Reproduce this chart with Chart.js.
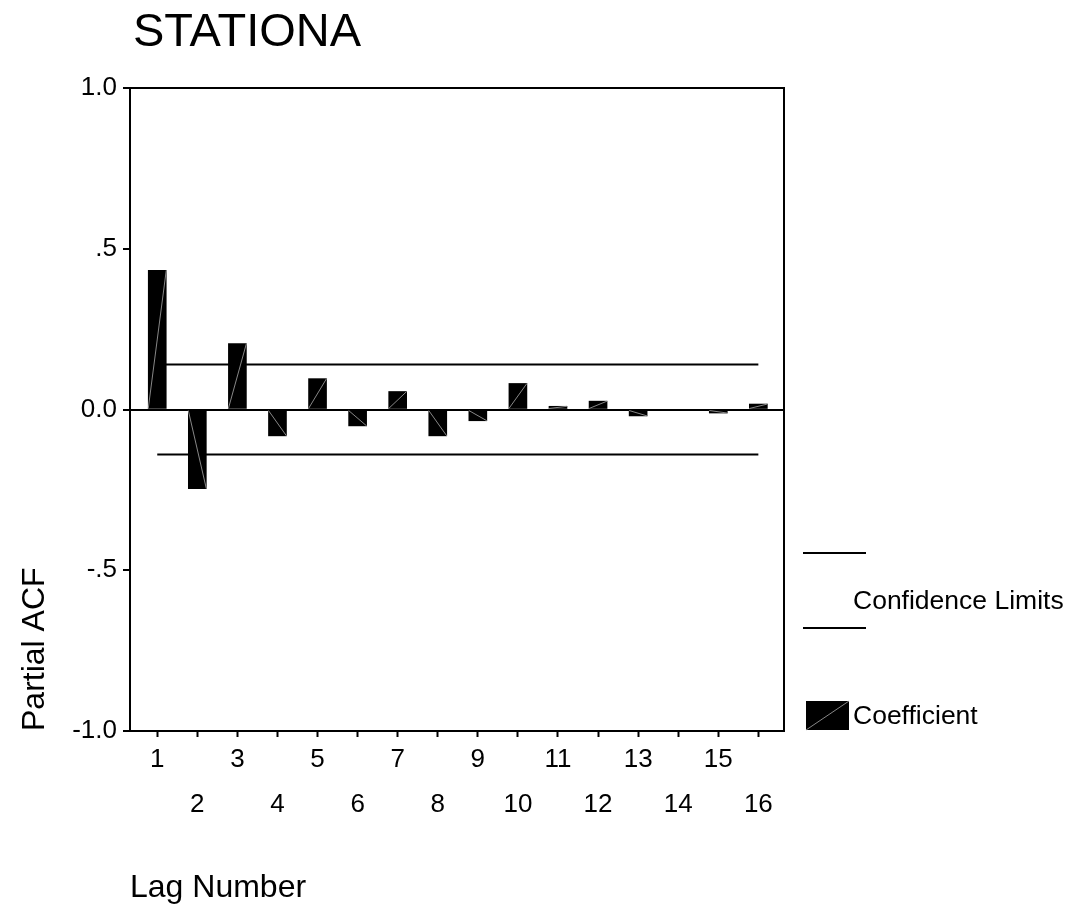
<!DOCTYPE html>
<html>
<head>
<meta charset="utf-8">
<title>STATIONA - Partial ACF</title>
<script src="https://cdn.jsdelivr.net/npm/chart.js@4.4.0/dist/chart.umd.min.js"></script>
<style>
    html, body { margin: 0; padding: 0; background: #fff; }
    canvas { display: block; }
</style>
</head>
<body>
<canvas id="pacfChart" width="1079" height="906"></canvas>
<script>
// Chart data
const lags = [1, 2, 3, 4, 5, 6, 7, 8, 9, 10, 11, 12, 13, 14, 15, 16];
const coefficients = [0.433, -0.246, 0.205, -0.082, 0.096, -0.051, 0.056, -0.082,
                      -0.035, 0.081, 0.010, 0.026, -0.020, 0.000, -0.011, 0.017];
const upperLimit = [0.14, 0.14];
const lowerLimit = [-0.14, -0.14];
const yTicks = [1, 0.5, 0, -0.5, -1];
const yTickLabels = ['1.0', '.5', '0.0', '-.5', '-1.0'];

const FONT = "'Liberation Sans', Arial, sans-serif";
Chart.defaults.font.family = FONT;
Chart.defaults.color = '#000';

// thin grey diagonal drawn across every bar, like the original export
const barDiagonals = {
    id: 'barDiagonals',
    afterDatasetsDraw(chart) {
        const ctx = chart.ctx;
        const meta = chart.getDatasetMeta(2);
        ctx.save();
        ctx.strokeStyle = 'rgba(150,150,150,0.9)';
        ctx.lineWidth = 1;
        meta.data.forEach(bar => {
            if (Math.abs(bar.base - bar.y) < 1) return;
            ctx.beginPath();
            ctx.moveTo(bar.x - bar.width / 2, bar.base);
            ctx.lineTo(bar.x + bar.width / 2, bar.y);
            ctx.stroke();
        });
        ctx.restore();
    }
};

// title, frame and the legend at the right
const decorations = {
    id: 'decorations',
    afterDraw(chart) {
        const ctx = chart.ctx;
        const area = chart.chartArea;
        ctx.save();

        // top and right edges of the frame
        ctx.strokeStyle = '#000';
        ctx.lineWidth = 2;
        ctx.beginPath();
        ctx.moveTo(area.left, area.top);
        ctx.lineTo(area.right, area.top);
        ctx.lineTo(area.right, area.bottom);
        ctx.stroke();

        // title
        ctx.fillStyle = '#000';
        ctx.font = '47px ' + FONT;
        ctx.textBaseline = 'alphabetic';
        ctx.textAlign = 'left';
        ctx.fillText('STATIONA', 133, 46);

        // legend
        const lx = area.right + 19;
        ctx.beginPath();
        ctx.moveTo(lx, 553);
        ctx.lineTo(lx + 63, 553);
        ctx.moveTo(lx, 628);
        ctx.lineTo(lx + 63, 628);
        ctx.stroke();

        ctx.font = '26.5px ' + FONT;
        ctx.textBaseline = 'middle';
        ctx.fillText('Confidence Limits', 853, 602);

        ctx.fillRect(lx + 3, 701, 43, 29);
        ctx.strokeStyle = 'rgba(150,150,150,0.9)';
        ctx.lineWidth = 1;
        ctx.beginPath();
        ctx.moveTo(lx + 3, 730);
        ctx.lineTo(lx + 46, 701);
        ctx.stroke();
        ctx.fillText('Coefficient', 853, 717);

        ctx.restore();
    }
};

const ctx = document.getElementById('pacfChart').getContext('2d');
new Chart(ctx, {
    type: 'bar',
    data: {
        datasets: [
            {
                type: 'line',
                label: 'Upper limit',
                data: [{ x: lags[0], y: upperLimit[0] }, { x: lags[lags.length - 1], y: upperLimit[1] }],
                borderColor: '#000',
                borderWidth: 2,
                pointRadius: 0,
                fill: false
            },
            {
                type: 'line',
                label: 'Lower limit',
                data: [{ x: lags[0], y: lowerLimit[0] }, { x: lags[lags.length - 1], y: lowerLimit[1] }],
                borderColor: '#000',
                borderWidth: 2,
                pointRadius: 0,
                fill: false
            },
            {
                type: 'bar',
                label: 'Coefficient',
                data: lags.map((l, i) => ({ x: l, y: coefficients[i] })),
                backgroundColor: '#000',
                borderWidth: 0,
                barThickness: 18
            }
        ]
    },
    options: {
        responsive: false,
        animation: false,
        devicePixelRatio: 1,
        layout: { padding: { left: 0, top: 88, right: 295, bottom: 0 } },
        plugins: {
            legend: { display: false },
            tooltip: { enabled: false }
        },
        scales: {
            x: {
                type: 'linear',
                offset: false,
                min: 0.32,
                max: 16.64,
                afterBuildTicks: axis => { axis.ticks = lags.map(v => ({ value: v })); },
                afterFit: scale => { scale.height = 175; },
                ticks: {
                    autoSkip: false,
                    maxRotation: 0,
                    padding: 0,
                    color: '#000',
                    font: { size: 26, lineHeight: 1.73 },
                    callback: v => (v % 2 ? [String(v)] : ['', String(v)])
                },
                grid: {
                    offset: false,
                    drawOnChartArea: false,
                    drawTicks: true,
                    tickLength: 6,
                    tickColor: '#000',
                    tickWidth: 2
                },
                border: { display: true, color: '#000', width: 2 },
                title: {
                    display: true,
                    text: 'Lag Number',
                    align: 'start',
                    color: '#000',
                    font: { size: 32, lineHeight: 1.1 },
                    padding: { top: 0, bottom: 0 }
                }
            },
            y: {
                type: 'linear',
                min: -1,
                max: 1,
                afterBuildTicks: axis => { axis.ticks = yTicks.map(v => ({ value: v })); },
                afterFit: scale => { scale.width = 130; },
                ticks: {
                    padding: 6,
                    color: '#000',
                    font: { size: 26 },
                    callback: v => yTickLabels[yTicks.indexOf(v)]
                },
                grid: {
                    drawOnChartArea: true,
                    color: c => (c.tick && c.tick.value === 0 ? '#000' : 'rgba(0,0,0,0)'),
                    lineWidth: 2,
                    tickLength: 7,
                    tickColor: '#000',
                    tickWidth: 2
                },
                border: { display: true, color: '#000', width: 2 },
                title: {
                    display: true,
                    text: 'Partial ACF',
                    align: 'start',
                    color: '#000',
                    font: { size: 32 },
                    padding: { top: 16, bottom: 0 }
                }
            }
        }
    },
    plugins: [barDiagonals, decorations]
});
</script>
</body>
</html>
